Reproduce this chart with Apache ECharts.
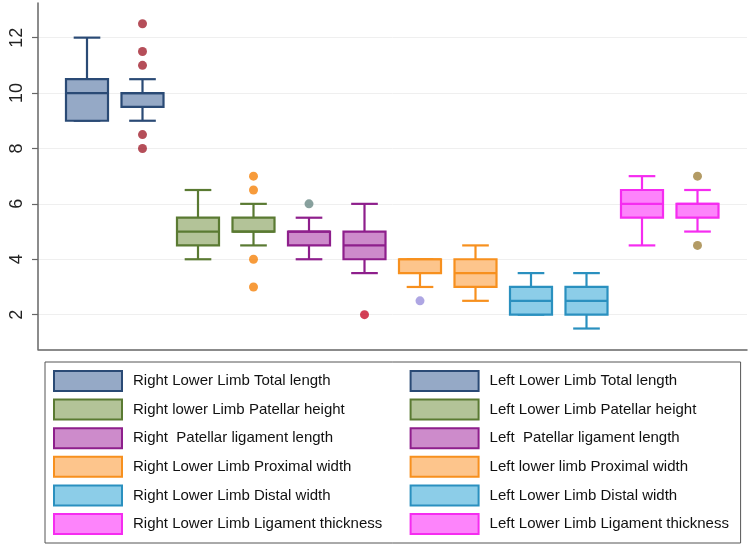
<!DOCTYPE html>
<html>
<head>
<meta charset="utf-8">
<script src="https://cdn.jsdelivr.net/npm/echarts@6/dist/echarts.min.js"></script>
<style>html,body{margin:0;padding:0;background:#fff}#c{width:749px;height:545px}</style>
</head>
<body>
<div id="c"></div>
<script>
// ---- data ----
const categories = [
  'Right Lower Limb Total length', 'Left Lower Limb Total length',
  'Right lower Limb Patellar height', 'Left Lower Limb Patellar height',
  'Right  Patellar ligament length', 'Left  Patellar ligament length',
  'Right Lower Limb Proximal width', 'Left lower limb Proximal width',
  'Right Lower Limb Distal width', 'Left Lower Limb Distal width',
  'Right Lower Limb Ligament thickness', 'Left Lower Limb Ligament thickness'
];
// [min, Q1, median, Q3, max]
const boxValues = [
  [9, 9, 10, 10.5, 12],
  [9, 9.5, 10, 10, 10.5],
  [4, 4.5, 5, 5.5, 6.5],
  [4.5, 5, 5, 5.5, 6],
  [4, 4.5, 5, 5, 5.5],
  [3.5, 4, 4.5, 5, 6],
  [3, 3.5, 4, 4, 4],
  [2.5, 3, 3.5, 4, 4.5],
  [2, 2, 2.5, 3, 3.5],
  [1.5, 2, 2.5, 3, 3.5],
  [4.5, 5.5, 6, 6.5, 7],
  [5, 5.5, 6, 6, 6.5]
];
// [category index, value]
const outliers = [
  [1, 12.5], [1, 11.5], [1, 11], [1, 8.5], [1, 8],
  [3, 7], [3, 6.5], [3, 4], [3, 3],
  [4, 6],
  [5, 2],
  [6, 2.5],
  [11, 7], [11, 4.5]
];
const outlierColors = {1: '#a3222f', 3: '#f5820a', 4: '#6a8a86', 5: '#c80f2c', 6: '#9a90dc', 11: '#a0823e'};
const yTicks = [2, 4, 6, 8, 10, 12];

const fills = ['#95a9c6', '#b3c398', '#cd8bcb', '#fdc58c', '#8ccde8', '#fd84fb'];
const borders = ['#2a4a75', '#5a7a32', '#8e1f8c', '#f7901e', '#2a90bf', '#f52cf0'];

// ---- build ----
const series = categories.map(function (name, i) {
  const fill = fills[Math.floor(i / 2)], stroke = borders[Math.floor(i / 2)];
  return {
    name: name,
    type: 'custom',
    xAxisIndex: 0, yAxisIndex: 0,
    itemStyle: {color: fill, borderColor: stroke},
    encode: {x: 0, y: [1, 2, 3, 4, 5]},
    data: [[i].concat(boxValues[i])],
    renderItem: function (params, api) {
      const x = api.value(0);
      const pMin = api.coord([x, api.value(1)]);
      const pQ1 = api.coord([x, api.value(2)]);
      const pMed = api.coord([x, api.value(3)]);
      const pQ3 = api.coord([x, api.value(4)]);
      const pMax = api.coord([x, api.value(5)]);
      const band = api.size([1, 0])[0];
      const bw = band * 0.757, cw = band * 0.48;
      const cx = pMed[0];
      const ls = {stroke: stroke, lineWidth: 2.2};
      return {
        type: 'group',
        children: [
          {type: 'line', shape: {x1: cx, y1: pQ3[1], x2: cx, y2: pMax[1]}, style: ls},
          {type: 'line', shape: {x1: cx, y1: pQ1[1], x2: cx, y2: pMin[1]}, style: ls},
          {type: 'line', shape: {x1: cx - cw / 2, y1: pMax[1], x2: cx + cw / 2, y2: pMax[1]}, style: ls},
          {type: 'line', shape: {x1: cx - cw / 2, y1: pMin[1], x2: cx + cw / 2, y2: pMin[1]}, style: ls},
          {type: 'rect', shape: {x: cx - bw / 2, y: pQ3[1], width: bw, height: pQ1[1] - pQ3[1]},
            style: {fill: fill, stroke: stroke, lineWidth: 2.2}},
          {type: 'line', shape: {x1: cx - bw / 2, y1: pMed[1], x2: cx + bw / 2, y2: pMed[1]}, style: ls}
        ]
      };
    }
  };
});

series.push({
  type: 'scatter',
  xAxisIndex: 0, yAxisIndex: 0,
  symbolSize: 9,
  silent: true,
  data: outliers.map(function (o) { return {value: o, itemStyle: {color: outlierColors[o[0]]}}; })
});

const legendData = categories.map(function (name, i) {
  return {
    name: name,
    itemStyle: {color: fills[Math.floor(i / 2)], borderColor: borders[Math.floor(i / 2)], borderWidth: 2}
  };
});
// order: all Right (column 1), then all Left (column 2)
const legendOrdered = legendData.filter(function (d, i) { return i % 2 === 0; })
  .concat(legendData.filter(function (d, i) { return i % 2 === 1; }));
const leftNames = categories.filter(function (d, i) { return i % 2 === 1; });

const yMin = 0.75, yMax = 13.25;

const option = {
  animation: false,
  backgroundColor: '#fff',
  grid: [
    {left: 59.25, right: 23.75, top: 3, bottom: 195.7},
    {left: 38, right: 2, top: 3, bottom: 195.7}
  ],
  xAxis: [
    {type: 'category', gridIndex: 0, data: categories, boundaryGap: true, show: false},
    {type: 'value', gridIndex: 1, min: 0, max: 1,
      axisLine: {show: true, lineStyle: {color: '#666', width: 1.5}},
      axisTick: {show: false}, axisLabel: {show: false}, splitLine: {show: false}}
  ],
  yAxis: [
    {type: 'value', gridIndex: 0, min: yMin, max: yMax, show: false},
    {type: 'value', gridIndex: 1, min: yMin, max: yMax,
      axisLine: {show: true, lineStyle: {color: '#666', width: 1.5}},
      axisTick: {show: true, length: 6, lineStyle: {color: '#666', width: 1.2}, customValues: yTicks},
      axisLabel: {rotate: 90, fontSize: 18, color: '#222', margin: 12,
        fontFamily: 'Liberation Sans, Arial, sans-serif', customValues: yTicks},
      splitLine: {show: true, lineStyle: {color: '#efefef', width: 1}}}
  ],
  legend: {
    type: 'plain',
    orient: 'vertical',
    left: 45, top: 362,
    height: 168,
    padding: [8, 8, 8, 8],
    itemWidth: 68, itemHeight: 20, itemGap: 6.6,
    icon: 'rect',
    borderColor: '#555', borderWidth: 1,
    selectedMode: false,
    formatter: function (name) {
      return (leftNames.indexOf(name) >= 0 ? '{l|' : '{r|') + name + '}';
    },
    textStyle: {
      fontSize: 15, color: '#111', fontFamily: 'Liberation Sans, Arial, sans-serif',
      rich: {
        r: {width: 270, height: 20, lineHeight: 20, fontSize: 15, color: '#111',
          fontFamily: 'Liberation Sans, Arial, sans-serif', padding: [0, 0, 0, 6]},
        l: {width: 243, height: 20, lineHeight: 20, fontSize: 15, color: '#111',
          fontFamily: 'Liberation Sans, Arial, sans-serif', padding: [0, 0, 0, 6]}
      }
    },
    data: legendOrdered
  },
  series: series
};

const chart = echarts.init(document.getElementById('c'));
chart.setOption(option);
</script>
</body>
</html>
